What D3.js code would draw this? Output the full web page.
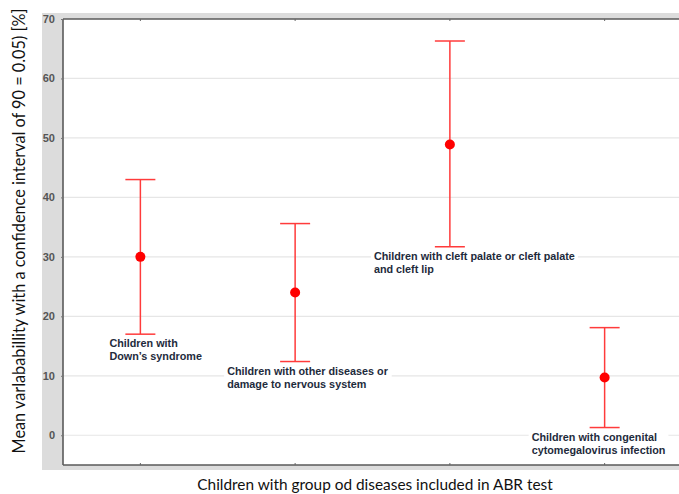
<!DOCTYPE html>
<html>
<head>
<meta charset="utf-8">
<script src="https://cdn.jsdelivr.net/npm/d3@7"></script>
<style>
  html, body { margin: 0; padding: 0; background: #fff; }
  svg { display: block; }
</style>
</head>
<body>
<svg id="chart" width="679" height="494"></svg>
<script>
// ---- data ----
const categories = [
  "Children with Down's syndrome",
  "Children with other diseases or damage to nervous system",
  "Children with cleft palate or cleft palate and cleft lip",
  "Children with congenital cytomegalovirus infection"
];
const labelLines = [
  ["Children with", "Down\u2019s syndrome"],
  ["Children with other diseases or", "damage to nervous system"],
  ["Children with cleft palate or cleft palate", "and cleft lip"],
  ["Children with congenital", "cytomegalovirus infection"]
];
const means = [30.0, 24.0, 48.9, 9.7];
const upper = [43.0, 35.6, 66.3, 18.1];
const lower = [17.0, 12.4, 31.7, 1.3];
const yTicks = [0, 10, 20, 30, 40, 50, 60, 70];
const yTitle = "Mean varlababillity with a confidence interval of 90 = 0.05) [%]";
const xTitle = "Children with group od diseases included in ABR test";

// label horizontal offsets relative to category centre (layout)
const labelDx = [-31, -68, -76, -73];

// ---- layout ----
const svg = d3.select("#chart");
const plot = { left: 63, top: 19, right: 682, bottom: 465 };

const x = d3.scaleBand().domain(categories).range([plot.left, plot.right]);
const y = d3.scaleLinear().domain([-5, 70]).range([plot.bottom, plot.top]);
const cx = c => x(c) + x.bandwidth() / 2;

// gray panel
svg.append("rect").attr("x", 42).attr("y", 13).attr("width", 679 - 42).attr("height", 470 - 13)
  .attr("fill", "#dcdcdc");
// white plot area
svg.append("rect").attr("x", plot.left).attr("y", plot.top)
  .attr("width", plot.right - plot.left).attr("height", plot.bottom - plot.top)
  .attr("fill", "#ffffff");

// gridlines
svg.append("g").selectAll("line").data(yTicks.filter(t => t < 70)).join("line")
  .attr("x1", plot.left).attr("x2", plot.right)
  .attr("y1", d => y(d)).attr("y2", d => y(d))
  .attr("stroke", "#e6e6e6").attr("stroke-width", 1.2);

// label backgrounds + labels
const data = categories.map((c, i) => ({ c, i, mean: means[i], hi: upper[i], lo: lower[i], lines: labelLines[i] }));
const labG = svg.append("g");
data.forEach(d => {
  const g = labG.append("g");
  const tx = cx(d.c) + labelDx[d.i];
  const ty = y(d.lo) + 13;
  const t = g.append("text")
    .attr("x", tx).attr("y", ty)
    .attr("font-family", "'Liberation Sans', Arial, sans-serif")
    .attr("font-size", 10.8).attr("font-weight", "bold")
    .attr("fill", "#1e2b3c");
  d.lines.forEach((ln, k) => {
    t.append("tspan").attr("x", tx).attr("dy", k === 0 ? 0 : 13).text(ln);
  });
  const bb = t.node().getBBox();
  g.insert("rect", "text").attr("x", bb.x - 3).attr("y", bb.y + 2)
    .attr("width", bb.width + 6).attr("height", bb.height - 2).attr("fill", "#fff");
});

// error bars
const eb = svg.append("g").attr("stroke", "#ff3b3b").attr("stroke-width", 1.5);
const capW = 15;
eb.selectAll("line.v").data(data).join("line").attr("class", "v")
  .attr("x1", d => cx(d.c)).attr("x2", d => cx(d.c))
  .attr("y1", d => y(d.hi)).attr("y2", d => y(d.lo));
eb.selectAll("line.hi").data(data).join("line").attr("class", "hi")
  .attr("x1", d => cx(d.c) - capW).attr("x2", d => cx(d.c) + capW)
  .attr("y1", d => y(d.hi)).attr("y2", d => y(d.hi));
eb.selectAll("line.lo").data(data).join("line").attr("class", "lo")
  .attr("x1", d => cx(d.c) - capW).attr("x2", d => cx(d.c) + capW)
  .attr("y1", d => y(d.lo)).attr("y2", d => y(d.lo));

// mean points
svg.append("g").selectAll("circle").data(data).join("circle")
  .attr("cx", d => cx(d.c)).attr("cy", d => y(d.mean)).attr("r", 5)
  .attr("fill", "#ff0000");

// axes frame
const frame = svg.append("g").attr("stroke", "#5a5a5a").attr("stroke-width", 1.6).attr("fill", "none");
frame.append("line").attr("x1", plot.left).attr("x2", plot.left).attr("y1", plot.top).attr("y2", plot.bottom);
frame.append("line").attr("x1", plot.left).attr("x2", plot.right).attr("y1", plot.top).attr("y2", plot.top);
frame.append("line").attr("x1", plot.left).attr("x2", plot.right).attr("y1", plot.bottom).attr("y2", plot.bottom);

// y axis
const yAxis = d3.axisLeft(y).tickValues(yTicks).tickSize(2).tickPadding(6);
const ya = svg.append("g").attr("transform", `translate(${plot.left},0)`).call(yAxis);
ya.select(".domain").remove();
ya.selectAll(".tick line").attr("stroke", "#777");
ya.selectAll(".tick text")
  .attr("font-family", "'Liberation Sans', Arial, sans-serif")
  .attr("font-size", 11).attr("font-weight", "bold").attr("fill", "#555");

// x axis ticks (bottom and top), no labels
const xb = svg.append("g").attr("transform", `translate(0,${plot.bottom})`)
  .call(d3.axisBottom(x).tickSize(-2).tickFormat(""));
xb.select(".domain").remove();
xb.selectAll(".tick line").attr("stroke", "#666");
const xt = svg.append("g").attr("transform", `translate(0,${plot.top})`)
  .call(d3.axisTop(x).tickSize(-2).tickFormat(""));
xt.select(".domain").remove();
xt.selectAll(".tick line").attr("stroke", "#666");

// axis titles
svg.append("text")
  .attr("transform", `translate(25,${(10 + 452) / 2}) rotate(-90)`)
  .attr("text-anchor", "middle")
  .attr("font-family", "Lato, 'Open Sans', sans-serif")
  .attr("font-size", 16.3).attr("fill", "#111")
  .text(yTitle);
svg.append("text")
  .attr("x", 375).attr("y", 490)
  .attr("text-anchor", "middle")
  .attr("font-family", "Lato, 'Open Sans', sans-serif")
  .attr("font-size", 15.4).attr("fill", "#111")
  .text(xTitle);
</script>
</body>
</html>
